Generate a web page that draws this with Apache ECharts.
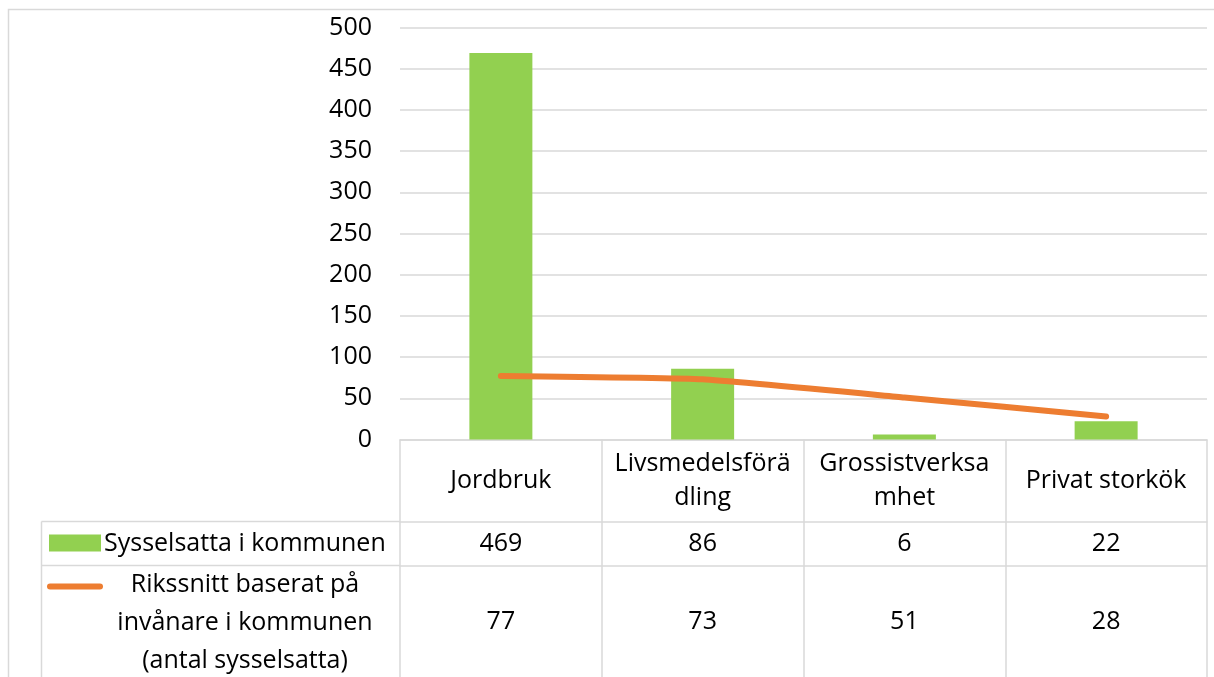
<!DOCTYPE html>
<html>
<head>
<meta charset="utf-8">
<script src="https://cdn.jsdelivr.net/npm/echarts@6/dist/echarts.min.js"></script>
<style>
  html, body { margin: 0; padding: 0; background: #fff; }
  #chart { width: 1214px; height: 677px; }
</style>
</head>
<body>
<div id="chart"></div>
<script>
// data
const categories = ['Jordbruk', 'Livsmedelsförädling', 'Grossistverksamhet', 'Privat storkök'];
const headerLabels = ['Jordbruk', 'Livsmedelsförä\ndling', 'Grossistverksa\nmhet', 'Privat storkök'];
const employed = [469, 86, 6, 22];
const nationalAverage = [77, 73, 51, 28];
const barName = 'Sysselsatta i kommunen';
const lineName = 'Rikssnitt baserat på\ninvånare i kommunen\n(antal sysselsatta)';
const yMin = 0;
const yMax = 500;
const yStep = 50;

// look
const FONT = 'Open Sans';
const FS = 25;
const GRID = '#d9d9d9';
const GREEN = '#92D050';
const ORANGE = '#ED7D31';
const HEAD_H = 82;   // header row (category names)
const ROW1_H = 44;   // first data row
const ROW2_H = 112;  // second data row (cut by the picture edge)

const chart = echarts.init(document.getElementById('chart'));

const tableAxis = (offset, rowH, labelMargin, values) => ({
	type: 'category',
	data: categories,
	position: 'bottom',
	offset: offset,
	axisLine: { show: true, lineStyle: { color: GRID, width: 1.5 } },
	axisTick: { show: true, length: rowH, interval: 0, lineStyle: { color: GRID, width: 1.5 } },
	axisLabel: {
		interval: 0,
		margin: labelMargin,
		verticalAlign: 'middle',
		fontFamily: FONT,
		fontSize: FS,
		color: '#000',
		formatter: (v, i) => String(values[i]),
	},
	splitLine: { show: false },
});

const option = {
	animation: false,
	backgroundColor: '#fff',
	textStyle: { fontFamily: FONT },
	grid: { left: 400, right: 7, top: 27.5, bottom: 237.5, outerBoundsMode: 'none', containLabel: false },
	xAxis: [
		{
			type: 'category',
			data: categories,
			position: 'bottom',
			axisLine: { show: true, lineStyle: { color: GRID, width: 1.5 } },
			axisTick: { show: true, length: HEAD_H, interval: 0, lineStyle: { color: GRID, width: 1.5 } },
			axisLabel: {
				interval: 0,
				margin: HEAD_H / 2,
				verticalAlign: 'middle',
				lineHeight: 34,
				fontFamily: FONT,
				fontSize: FS,
				color: '#000',
				formatter: (v, i) => headerLabels[i],
			},
		},
		tableAxis(HEAD_H, ROW1_H, ROW1_H / 2, employed),
		tableAxis(HEAD_H + ROW1_H, ROW2_H, 56, nationalAverage),
	],
	yAxis: {
		type: 'value',
		min: yMin,
		max: yMax,
		interval: yStep,
		axisLine: { show: false },
		axisTick: { show: false },
		axisLabel: { margin: 28, fontFamily: FONT, fontSize: FS, color: '#000' },
		splitLine: { lineStyle: { color: GRID, width: 1.5 } },
	},
	series: [
		{
			name: barName,
			type: 'bar',
			data: employed,
			barWidth: 63,
			itemStyle: { color: GREEN },
		},
		{
			name: lineName,
			type: 'line',
			data: nationalAverage,
			smooth: 0.12,
			symbol: 'none',
			z: 5,
			lineStyle: { color: ORANGE, width: 6, cap: 'round' },
		},
	],
};

chart.setOption(option);

// table frame left of the plot + legend keys, placed from the axis base
const yBase = chart.convertToPixel({ yAxisIndex: 0 }, 0);
const row1Top = yBase + HEAD_H;
const row2Top = row1Top + ROW1_H;
const tableLeft = 41.5;
const plotLeft = 400;
const lineStyle = { stroke: GRID, lineWidth: 1.5 };

chart.setOption({
	graphic: [
		{ type: 'rect', silent: true, shape: { x: 8.5, y: 9.5, width: 1400, height: 900 }, style: { fill: 'none', stroke: GRID, lineWidth: 1.5 } },
		{ type: 'line', silent: true, shape: { x1: tableLeft, y1: row1Top, x2: plotLeft, y2: row1Top }, style: lineStyle },
		{ type: 'line', silent: true, shape: { x1: tableLeft, y1: row2Top, x2: plotLeft, y2: row2Top }, style: lineStyle },
		{ type: 'line', silent: true, shape: { x1: tableLeft, y1: row1Top, x2: tableLeft, y2: row2Top + ROW2_H }, style: lineStyle },
		{ type: 'rect', silent: true, shape: { x: 49, y: row1Top + 13, width: 52, height: 17 }, style: { fill: GREEN } },
		{
			type: 'text', silent: true, x: 104, y: row1Top + ROW1_H / 2,
			style: { text: barName, font: FS + 'px ' + FONT, fill: '#000', verticalAlign: 'middle', align: 'left' },
		},
		{ type: 'line', silent: true, shape: { x1: 50, y1: row2Top + 21, x2: 100, y2: row2Top + 21 }, style: { stroke: ORANGE, lineWidth: 6, lineCap: 'round' } },
		{
			type: 'text', silent: true, x: 245, y: row2Top + 57,
			style: { text: lineName, font: FS + 'px ' + FONT, fill: '#000', verticalAlign: 'middle', align: 'center', lineHeight: 38 },
		},
	],
});
</script>
</body>
</html>
